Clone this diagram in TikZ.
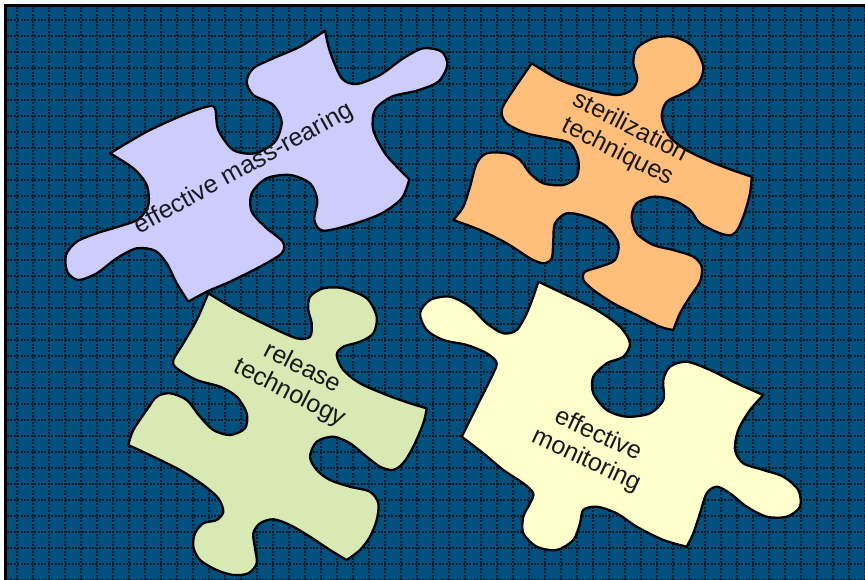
\documentclass[tikz,border=0pt]{standalone}
\usepackage{fontspec}
\setmainfont{Liberation Sans}
\usepackage{tikz}

\definecolor{board}{RGB}{0,81,125}
\definecolor{gridink}{RGB}{8,28,42}
\definecolor{lavender}{RGB}{204,204,255}
\definecolor{apricot}{RGB}{255,190,122}
\definecolor{sage}{RGB}{216,233,179}
\definecolor{cream}{RGB}{255,255,204}

\begin{document}
\begin{tikzpicture}[x=1pt,y=-1pt,
    piece/.style={draw=black, line width=2.3pt, line join=round},
    gridline/.style={gridink, line width=1.4pt, dash pattern=on 2pt off 1.4pt},
    word/.style={font=\fontsize{25}{28}\selectfont, align=center, text=black!90}]

\useasboundingbox (0,0) rectangle (865,580);

% board and its grid
\fill[black] (4,4) rectangle (865,580);
\fill[board] (7,7) rectangle (865,580);
\foreach \x in {17,33,...,865}
    \draw[gridline] (\x,7) -- (\x,580);
\foreach \y in {20,36,...,580}
    \draw[gridline] (7,\y) -- (865,\y);

% release technology
\filldraw[piece, fill=sage]
    plot[smooth] coordinates {(208.3,293.3) (236.7,310) (270,326.7) (296.7,338.3) (310,336.7)
        (311.7,323.3) (308.3,310) (310,296.7) (323.3,288.3) (343.3,288.3) (366.7,298.3)
        (376.7,316.7) (373.3,333.3) (360,341.7) (343.3,346.7) (336.7,355) (343.3,370)
        (360,383.3) (386.7,395) (410,403.3) (426.7,408.3)}
    -- plot[smooth] coordinates {(426.7,408.3) (423.3,423.3) (413.3,446.7) (403.3,463)
        (393,470) (380,466.7) (366.7,456.7) (350,443.3) (333.3,436.7) (316.7,441.7)
        (310,456.7) (316.7,470) (330,480) (350,486.7) (370,491.7) (378.3,503.3)
        (376.7,520) (370,536.7) (360,550) (346.7,560)}
    -- plot[smooth] coordinates {(346.7,560) (330,550) (310,536.7) (290,525) (273.3,519.3)
        (260,523.3) (253.3,533.3) (255,548.3) (256.7,563.3) (248.3,573.3) (233.3,575)
        (216.7,570) (200,560) (193.3,546.7) (195,533.3) (203.3,523.3) (216.7,520)
        (223.3,511.7) (218.3,498.3) (203.3,485) (180,470) (153.3,456.7) (128.3,445)}
    -- plot[smooth] coordinates {(128.3,445) (133.3,430) (146.7,410) (156.7,396.7)
        (170,393.3) (186.7,400) (200,416.7) (213.3,430) (230,435) (245,428.3)
        (246.7,413.3) (236.7,396.7) (220,386.7) (196.7,380) (176.7,368.3) (173.3,360)
        (183.3,343.3) (196.7,320) (208.3,293.3)}
    -- cycle;
\node[word, rotate=-27] (release) at (296,381) {release\\technology};

% effective monitoring
\filldraw[piece, fill=cream]
    plot[smooth] coordinates {(461.7,436.7) (476.7,406.7) (490,380) (496.7,363.3)
        (486.7,353.3) (466.7,345) (443.3,340) (426.7,330) (420,313.3) (430,300)
        (450,296.7) (470,306.7) (486.7,323.3) (503.3,333.3) (516.7,330) (526.7,313.3)
        (533.3,296.7) (538.3,281.7)}
    -- plot[smooth] coordinates {(538.3,281.7) (570,296.7) (596.7,310) (620,326.7)
        (630,343.3) (623.3,356.7) (606.7,363.3) (593.3,376.7) (593.3,393.3) (606.7,410)
        (626.7,416.7) (650,413.3) (663.3,400) (663.3,380) (670,366.7) (686.7,361.7)
        (710,370) (736.7,383.3) (763.3,395)}
    -- plot[smooth] coordinates {(763.3,395) (750,410) (738.3,430) (735,450) (743.3,463.3)
        (763.3,470) (783.3,476.7) (798.3,490) (800,506.7) (786.7,516.7) (766.7,516.7)
        (746.7,506.7) (730,493.3) (716.7,486.7) (706.7,493.3) (700,513.3) (693.3,533.3)
        (686.7,546.7)}
    -- plot[smooth] coordinates {(686.7,546.7) (663.3,540) (636.7,526.7) (616.7,513.3)
        (596.7,506.7) (583.3,510) (580,523.3) (573.3,540) (556.7,550) (536.7,546.7)
        (523.3,533.3) (523.3,516.7) (530,503.3) (533.3,493.3) (523.3,483.3) (503.3,470)
        (483.3,453.3) (461.7,436.7)}
    -- cycle;
\node[word, rotate=-25] (monitoring) at (592,448) {effective\\monitoring};

% sterilization techniques
\filldraw[piece, fill=apricot]
    plot[smooth] coordinates {(531.7,63.3) (560,80) (590,90) (616.7,95) (631.7,90)
        (637.3,78.3) (633.3,63.3) (636.7,48.3) (653.3,38.3) (673.3,36.7) (693.3,46.7)
        (703.3,66.7) (698.3,83.3) (683.3,93.3) (666.7,101.7) (661.7,116.7) (668.3,135)
        (683.3,148.3) (706.7,160) (730,169.3) (751.7,176.7)}
    -- plot[smooth] coordinates {(751.7,176.7) (750,193.3) (745,211.7) (738.3,228.3)
        (731.7,235) (720,233.3) (700,223.3) (690,210) (673.3,200) (653.3,196.7)
        (636.7,203.3) (631.7,216.7) (636.7,233.3) (653.3,245) (673.3,250) (693.3,256.7)
        (701.7,266.7) (700,281.7) (690,296.7) (680,313.3) (673.3,330)}
    -- plot[smooth] coordinates {(673.3,330) (660,326.7) (636.7,315) (613.3,303.3)
        (593.3,290) (583.3,280) (585,271.7) (600,266.7) (615,260) (618.3,243.3)
        (606.7,226.7) (586.7,216.7) (566.7,213.3) (555,223.3) (553.3,240) (551.7,258.3)
        (543.3,263.3) (530,258.3) (506.7,243.3) (480,230) (453.3,220)}
    -- plot[smooth] coordinates {(453.3,220) (463.3,206.7) (470,186.7) (476.7,163.3)
        (486.7,153.3) (506.7,153.3) (520,160) (530,173.3) (543.3,183.3) (563.3,185)
        (576.7,176.7) (578.3,160) (570,143.3) (550,138.3) (526.7,133.3) (506.7,123.3)
        (501.7,110) (513.3,90) (531.7,63.3)}
    -- cycle;
\node[word, rotate=-27] (sterilization) at (624,140) {sterilization\\techniques};

% effective mass-rearing
\filldraw[piece, fill=lavender]
    plot[smooth] coordinates {(110,153.3) (146.7,131.7) (183.3,115) (206.7,106.7)
        (215,108.3) (218.3,130) (233.3,150) (255,153.3) (275,141.7) (281.7,121.7)
        (273.3,105) (253.3,95) (246.7,81.7) (253.3,68.3) (273.3,58.3) (300,46.7)
        (325,30.7)}
    -- plot[smooth] coordinates {(325,30.7) (330,51.7) (341.7,78.3) (356.7,84) (380,75)
        (403.3,58.3) (423.3,48.3) (441.7,51.7) (447.3,65) (438.3,81.7) (416.7,90.7)
        (391.7,96.7) (375,110) (373.3,130) (385,153.3) (400,170) (409.3,179.3)}
    -- plot[smooth] coordinates {(409.3,179.3) (401.7,198.3) (381.7,213.3) (353.3,224)
        (323.3,230.7) (314.3,220) (317.3,200) (310,183.3) (290,175) (266.7,178.3)
        (251.7,193.3) (251.7,211.7) (266.7,228.3) (282.7,241.7) (281.7,253.3)
        (260,266.7) (230,281.7) (206.7,291.7) (188.3,301.7)}
    -- plot[smooth] coordinates {(188.3,301.7) (176.7,283.3) (166.7,263.3) (155,250.7)
        (136.7,248.3) (116.7,258.3) (96.7,273.3) (78.3,280) (67.3,271.7) (66,255)
        (76.7,241.7) (96.7,233.3) (118.3,226.7) (138.3,219.3) (148.3,205) (146.7,185)
        (133.3,168.3) (110,153.3)}
    -- cycle;
\node[word, rotate=29] (rearing) at (244,169) {effective mass-rearing};

\end{tikzpicture}
\end{document}
